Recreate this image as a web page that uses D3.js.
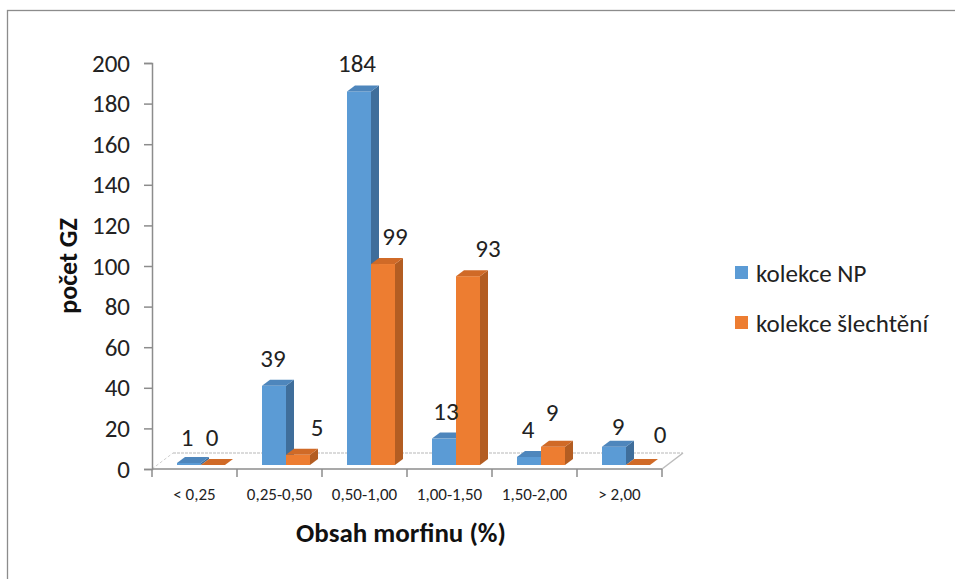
<!DOCTYPE html>
<html>
<head>
<meta charset="utf-8">
<script src="https://cdn.jsdelivr.net/npm/d3@7"></script>
<style>
  html, body { margin: 0; padding: 0; background: #fff; }
  svg { display: block; }
</style>
</head>
<body>
<svg id="chart" width="955" height="579"></svg>
<script>
// Počet genotypů podle obsahu morfinu
const categories = ["< 0,25", "0,25-0,50", "0,50-1,00", "1,00-1,50", "1,50-2,00", "> 2,00"];
const seriesNames = ["kolekce NP", "kolekce šlechtění"];
const valuesNP = [1, 39, 184, 13, 4, 9];
const valuesSlechteni = [0, 5, 99, 93, 9, 0];
const yTicks = [0, 20, 40, 60, 80, 100, 120, 140, 160, 180, 200];

// label nudges (px) for the 3D value labels, per series
const labelShiftXNP = [-2, -1, -2, 2, -1, 4];
const labelShiftYNP = [2, 0, 0, 0, 0, 7];
const labelShiftXSl = [-1, 19, 12, 20, -1, 22];
const labelShiftYSl = [0, 0, 0, 0, -7, -3];

const svg = d3.select("#chart");
const font = "Carlito, Lato, 'Open Sans', 'Liberation Sans', sans-serif";

const colors = {
  blue:   { front: "#5B9BD5", side: "#3F6E9B", top: "#4E86BC" },
  orange: { front: "#ED7D31", side: "#B35D22", top: "#D06A27" }
};

// outer frame
svg.append("rect")
  .attr("x", 7.5).attr("y", 10.5)
  .attr("width", 1000).attr("height", 1000)
  .attr("fill", "none").attr("stroke", "#8c8c8c").attr("stroke-width", 1.3);

const plot = { left: 152, right: 662, top: 63, bottom: 469 };
const floorDx = 21, floorDy = -16;   // floor depth
const barDx = 8, barDy = -6;         // bar depth
const barBaseShift = -4;             // bars sit slightly behind the front edge

const x = d3.scaleBand().domain(categories).range([plot.left, plot.right]).paddingInner(0).paddingOuter(0);
const y = d3.scaleLinear().domain([0, 200]).range([plot.bottom, plot.top]);

// floor
const fl = plot.left, fr = plot.right, fb = plot.bottom;
svg.append("path")
  .attr("d", `M${fl},${fb} L${fl + floorDx},${fb + floorDy} L${fr + floorDx},${fb + floorDy} L${fr},${fb} Z`)
  .attr("fill", "#fff").attr("stroke", "none");
svg.append("line")
  .attr("x1", fl + floorDx).attr("y1", fb + floorDy).attr("x2", fr + floorDx).attr("y2", fb + floorDy)
  .attr("stroke", "#d0d0d0").attr("stroke-width", 1.5).attr("stroke-dasharray", "3,1");
svg.append("line")
  .attr("x1", fl).attr("y1", fb).attr("x2", fl + floorDx).attr("y2", fb + floorDy)
  .attr("stroke", "#d0d0d0").attr("stroke-width", 1).attr("stroke-dasharray", "3,2");
svg.append("line")
  .attr("x1", fr).attr("y1", fb).attr("x2", fr + floorDx).attr("y2", fb + floorDy)
  .attr("stroke", "#bcbcbc").attr("stroke-width", 1.5);

// y axis
const yAxis = d3.axisLeft(y).tickValues(yTicks).tickSize(8).tickPadding(14);
const yg = svg.append("g").attr("transform", `translate(${plot.left},0)`).call(yAxis);
yg.select(".domain").attr("stroke", "#8c8c8c").attr("stroke-width", 1.5);
yg.selectAll(".tick line").attr("stroke", "#8c8c8c").attr("stroke-width", 1.5);
yg.selectAll(".tick text")
  .attr("font-family", font).attr("font-size", 25).attr("fill", "#222");

// x axis (category boundaries as ticks)
const xg = svg.append("g").attr("transform", `translate(0,${plot.bottom})`);
xg.append("line").attr("x1", fl).attr("x2", fr).attr("y1", 0).attr("y2", 0)
  .attr("stroke", "#8c8c8c").attr("stroke-width", 1.5);
const bounds = categories.map(c => x(c)).concat([plot.right]);
xg.selectAll("line.tk").data(bounds).enter().append("line")
  .attr("class", "tk")
  .attr("x1", d => d).attr("x2", d => d).attr("y1", 0).attr("y2", 8)
  .attr("stroke", "#8c8c8c").attr("stroke-width", 1.5);
xg.selectAll("text").data(categories).enter().append("text")
  .attr("x", d => x(d) + x.bandwidth() / 2)
  .attr("y", 31)
  .attr("text-anchor", "middle")
  .attr("font-family", font).attr("font-size", 17).attr("fill", "#222")
  .text(d => d);

// bars
const barW = 24;
const groupOffset = 25;
const series = [
  { values: valuesNP, col: colors.blue, sx: labelShiftXNP, sy: labelShiftYNP, off: 0 },
  { values: valuesSlechteni, col: colors.orange, sx: labelShiftXSl, sy: labelShiftYSl, off: barW }
];

const bars = svg.append("g");
const labels = svg.append("g");
series.forEach(s => {
  s.values.forEach((v, i) => {
    const x0 = x(categories[i]) + groupOffset + s.off;
    const x1 = x0 + barW;
    const base = y(0) + barBaseShift;
    const top = y(v) + barBaseShift;
    const g = bars.append("g");
    if (v > 0) {
      g.append("rect").attr("x", x0).attr("y", top).attr("width", barW).attr("height", base - top)
        .attr("fill", s.col.front);
      g.append("path")
        .attr("d", `M${x1},${top} L${x1 + barDx},${top + barDy} L${x1 + barDx},${base + barDy} L${x1},${base} Z`)
        .attr("fill", s.col.side);
    }
    g.append("path")
      .attr("d", `M${x0},${top} L${x0 + barDx},${top + barDy} L${x1 + barDx},${top + barDy} L${x1},${top} Z`)
      .attr("fill", s.col.top);

    labels.append("text")
      .attr("x", x0 + barW / 2 + s.sx[i])
      .attr("y", top - 19 + s.sy[i])
      .attr("text-anchor", "middle")
      .attr("font-family", font).attr("font-size", 25).attr("fill", "#222")
      .text(v);
  });
});

// axis titles
svg.append("text")
  .attr("transform", "translate(77,266) rotate(-90)")
  .attr("text-anchor", "middle")
  .attr("font-family", font).attr("font-size", 26).attr("font-weight", "bold").attr("fill", "#111")
  .text("počet GZ");
svg.append("text")
  .attr("x", 401).attr("y", 542)
  .attr("text-anchor", "middle")
  .attr("font-family", font).attr("font-size", 27).attr("font-weight", "bold").attr("fill", "#111")
  .text("Obsah morfinu (%)");

// legend
const legend = svg.append("g").attr("transform", "translate(735,266)");
[colors.blue, colors.orange].forEach((c, i) => {
  const row = legend.append("g").attr("transform", `translate(0,${i * 50})`);
  row.append("rect").attr("x", 0).attr("y", 0).attr("width", 13).attr("height", 13).attr("fill", c.front);
  row.append("text").attr("x", 21).attr("y", 16)
    .attr("font-family", font).attr("font-size", 25).attr("fill", "#222")
    .text(seriesNames[i]);
});
</script>
</body>
</html>
